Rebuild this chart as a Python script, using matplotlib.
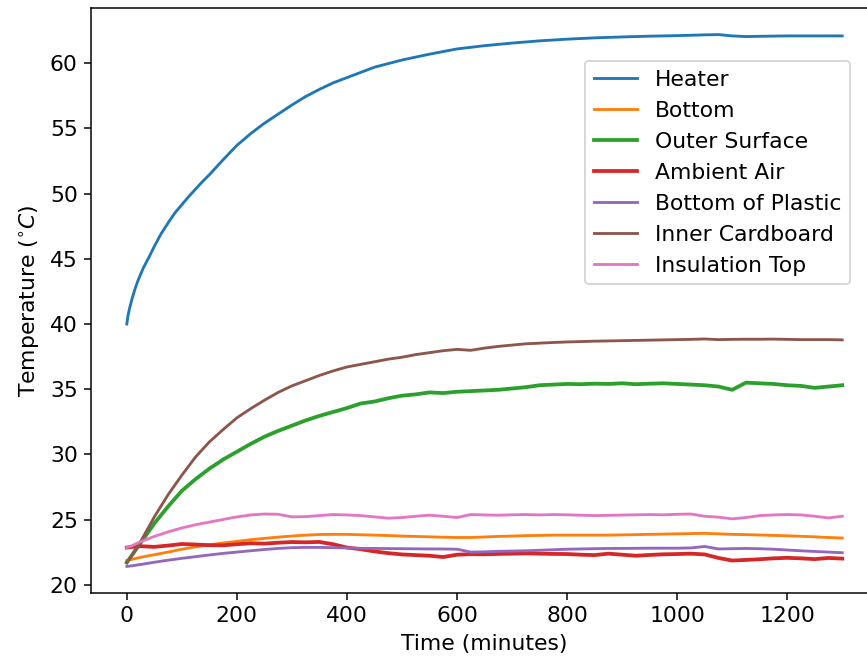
import matplotlib
matplotlib.use("Agg")
import matplotlib.pyplot as plt

plt.rcParams["font.size"] = 11.6

time_min = [0, 10] + list(range(25, 1301, 25))

heater_time = [0, 2, 5, 10, 15, 20, 30, 40, 50, 62, 75, 87, 100, 112, 125, 137, 150, 175, 200,
               225, 250, 275, 300, 325, 350, 375, 400, 450, 500, 550, 600, 650, 700, 750, 800,
               850, 900, 950, 1000, 1050, 1075, 1100, 1125, 1150, 1200, 1250, 1300]
heater = [40.0, 40.6, 41.2, 42.0, 42.7, 43.3, 44.3, 45.1, 45.95, 46.9, 47.75, 48.5, 49.15, 49.75,
          50.35, 50.9, 51.45, 52.6, 53.7, 54.6, 55.4, 56.1, 56.8, 57.45, 58.0, 58.5, 58.9, 59.7,
          60.25, 60.7, 61.1, 61.35, 61.55, 61.72, 61.85, 61.95, 62.02, 62.08, 62.12, 62.18, 62.2,
          62.1, 62.05, 62.07, 62.1, 62.1, 62.1]

bottom = [21.85, 21.95, 22.1, 22.3, 22.5, 22.72, 22.9, 23.05, 23.2, 23.32, 23.45, 23.55, 23.65,
          23.73, 23.8, 23.85, 23.86, 23.86, 23.83, 23.8, 23.77, 23.73, 23.7, 23.67, 23.64, 23.62,
          23.62, 23.66, 23.7, 23.73, 23.76, 23.78, 23.8, 23.8, 23.8, 23.8, 23.8, 23.82, 23.84,
          23.86, 23.88, 23.9, 23.92, 23.94, 23.9, 23.86, 23.84, 23.81, 23.78, 23.75, 23.71, 23.67,
          23.62, 23.58]

outer_surface = [21.7, 22.3, 23.2, 24.7, 26.0, 27.2, 28.1, 28.9, 29.6, 30.2, 30.8, 31.35, 31.8,
                 32.2, 32.6, 32.95, 33.25, 33.55, 33.9, 34.05, 34.3, 34.5, 34.6, 34.75, 34.7, 34.8,
                 34.85, 34.9, 34.95, 35.05, 35.15, 35.3, 35.35, 35.4, 35.38, 35.42, 35.4, 35.45,
                 35.38, 35.42, 35.45, 35.4, 35.35, 35.3, 35.2, 34.95, 35.5, 35.45, 35.4, 35.3,
                 35.25, 35.1, 35.2, 35.3]

ambient_air = [22.85, 22.9, 22.95, 22.9, 23.0, 23.12, 23.08, 23.03, 23.02, 23.1, 23.18, 23.15,
               23.22, 23.27, 23.25, 23.28, 23.1, 22.85, 22.72, 22.55, 22.42, 22.32, 22.27, 22.22,
               22.12, 22.3, 22.34, 22.33, 22.36, 22.38, 22.4, 22.38, 22.36, 22.35, 22.3, 22.27,
               22.38, 22.3, 22.22, 22.28, 22.33, 22.35, 22.38, 22.32, 22.05, 21.85, 21.9, 21.95,
               22.02, 22.06, 22.02, 21.96, 22.05, 22.0]

bottom_of_plastic = [21.4, 21.45, 21.55, 21.72, 21.88, 22.02, 22.15, 22.28, 22.4, 22.5, 22.6,
                     22.7, 22.78, 22.84, 22.86, 22.86, 22.84, 22.82, 22.79, 22.78, 22.77, 22.76,
                     22.75, 22.74, 22.74, 22.72, 22.5, 22.52, 22.56, 22.58, 22.6, 22.64, 22.68,
                     22.72, 22.74, 22.76, 22.78, 22.78, 22.79, 22.8, 22.8, 22.8, 22.82, 22.93,
                     22.74, 22.76, 22.78, 22.76, 22.72, 22.66, 22.6, 22.55, 22.5, 22.45]

inner_cardboard = [21.7, 22.3, 23.3, 25.2, 26.9, 28.4, 29.8, 30.95, 31.9, 32.8, 33.5, 34.15,
                   34.75, 35.25, 35.65, 36.05, 36.4, 36.7, 36.9, 37.1, 37.3, 37.45, 37.65, 37.8,
                   37.95, 38.05, 37.98, 38.15, 38.28, 38.38, 38.48, 38.53, 38.58, 38.62, 38.65,
                   38.68, 38.7, 38.72, 38.74, 38.76, 38.78, 38.8, 38.82, 38.85, 38.8, 38.82, 38.83,
                   38.83, 38.84, 38.82, 38.8, 38.8, 38.8, 38.78]

insulation_top = [22.85, 23.0, 23.3, 23.7, 24.05, 24.35, 24.6, 24.8, 25.0, 25.2, 25.35, 25.42,
                  25.4, 25.2, 25.22, 25.3, 25.38, 25.35, 25.3, 25.2, 25.1, 25.15, 25.25, 25.33,
                  25.25, 25.15, 25.38, 25.35, 25.33, 25.36, 25.38, 25.35, 25.38, 25.36, 25.33,
                  25.3, 25.32, 25.34, 25.36, 25.38, 25.36, 25.4, 25.42, 25.25, 25.18, 25.05, 25.15,
                  25.3, 25.35, 25.38, 25.35, 25.25, 25.12, 25.25]

labels = ["Heater", "Bottom", "Outer Surface", "Ambient Air", "Bottom of Plastic",
          "Inner Cardboard", "Insulation Top"]
series = [(heater_time, heater), (time_min, bottom), (time_min, outer_surface),
          (time_min, ambient_air), (time_min, bottom_of_plastic),
          (time_min, inner_cardboard), (time_min, insulation_top)]

fig = plt.figure(figsize=(867 / 136, 662 / 136), dpi=136)
ax = fig.add_axes([0.1050, 0.1042, 0.9077, 0.8837])

for lab, (tt, vals) in zip(labels, series):
    lw = 2.0 if lab in ("Outer Surface", "Ambient Air") else 1.5
    ax.plot(tt, vals, label=lab, lw=lw)

ax.set_xlabel("Time (minutes)")
ax.set_ylabel(r"Temperature ($^{\circ}C$)")
ax.set_yticks([20, 25, 30, 35, 40, 45, 50, 55, 60])
ax.set_xticks([0, 200, 400, 600, 800, 1000, 1200])
ax.legend(loc="upper right", bbox_to_anchor=(0.9644, 0.9094), borderaxespad=0)

fig.savefig("out.png", dpi=136)
